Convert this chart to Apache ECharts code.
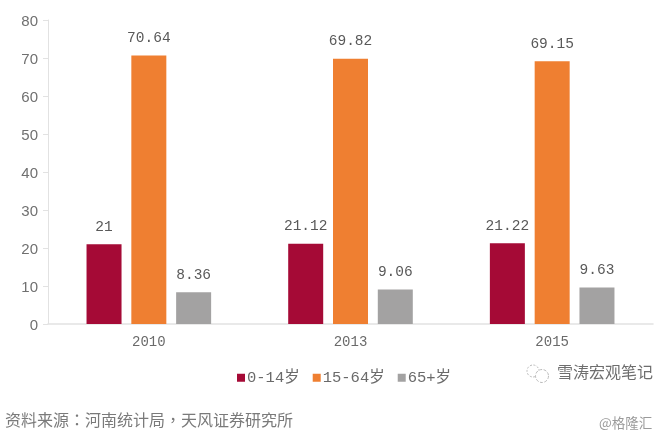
<!DOCTYPE html>
<html><head><meta charset="utf-8">
<style>html,body{margin:0;padding:0;background:#fff}#c{width:659px;height:436px}</style>
<script src="https://cdn.jsdelivr.net/npm/echarts@6/dist/echarts.min.js"></script>
</head><body><div id="c"></div>
<script>
const categories = ['2010','2013','2015'];
const youth = [21,21.12,21.22];
const working = [70.64,69.82,69.15];
const elderly = [8.36,9.06,9.63];
const seriesNames = ['0-14岁','15-64岁','65+岁'];
const colors = ['#A50A36','#EF7F31','#A3A2A2'];
const sourceText = '资料来源：河南统计局，天风证券研究所';
const watermark = '雪涛宏观笔记';
const credit = '@格隆汇';
const mono = '"Liberation Mono","Noto Sans CJK SC",monospace';
const chart = echarts.init(document.getElementById('c'),null,{renderer:'canvas'});
const mk = (i,data)=>({
  name:seriesNames[i],type:'bar',data,barWidth:35,barGap:'28%',
  itemStyle:{color:colors[i]},
  label:{show:true,position:'top',distance:10,color:'#595959',fontFamily:mono,fontSize:14.5}
});
chart.setOption({
  animation:false,
  backgroundColor:'#fff',
  grid:{left:48,right:6,top:20,bottom:112,containLabel:false},
  xAxis:{type:'category',data:categories,
    axisLine:{lineStyle:{color:'#E2E2E2',width:1.5}},axisTick:{show:false},
    axisLabel:{color:'#6a6a6a',fontFamily:mono,fontSize:14,margin:11}},
  yAxis:{type:'value',min:0,max:80,interval:10,
    axisLine:{show:true,lineStyle:{color:'#E2E2E2',width:1}},
    axisTick:{show:true,length:5,lineStyle:{color:'#E2E2E2'}},
    splitLine:{show:false},
    axisLabel:{margin:10,formatter:'{a|{value}}',
      rich:{a:{color:'#707070',fontFamily:'"Liberation Sans",sans-serif',fontSize:15,padding:[4,0,0,0]}}}},
  legend:{data:seriesNames,left:232,top:365,itemWidth:8,itemHeight:8,itemGap:13,icon:'rect',
    textStyle:{color:'#6a6a6a',fontFamily:mono,fontSize:15.5,padding:[0,0,0,-3]}},
  series:[mk(0,youth),mk(1,working),mk(2,elderly)],
  graphic:[
    {type:'text',left:5,top:412,style:{text:sourceText,fill:'#7a7a7a',fontSize:16,fontFamily:'"Noto Sans CJK TC",sans-serif'}},
    {type:'text',left:557,top:364,style:{text:watermark,fill:'#6e6e6e',fontSize:16,fontFamily:'"Noto Sans CJK SC",sans-serif'}},
    {type:'text',left:599,top:416,style:{text:credit,fill:'#9a9a9a',fontSize:13.5,fontFamily:'"Noto Sans CJK SC",sans-serif'}},
    {type:'circle',shape:{cx:533,cy:371,r:6},style:{fill:'none',stroke:'#bbb',lineWidth:1,lineDash:[2,1.5]}},
    {type:'circle',shape:{cx:542,cy:376,r:6.5},style:{fill:'#fff',stroke:'#bbb',lineWidth:1,lineDash:[3,1.5]}}
  ]
});
</script></body></html>
